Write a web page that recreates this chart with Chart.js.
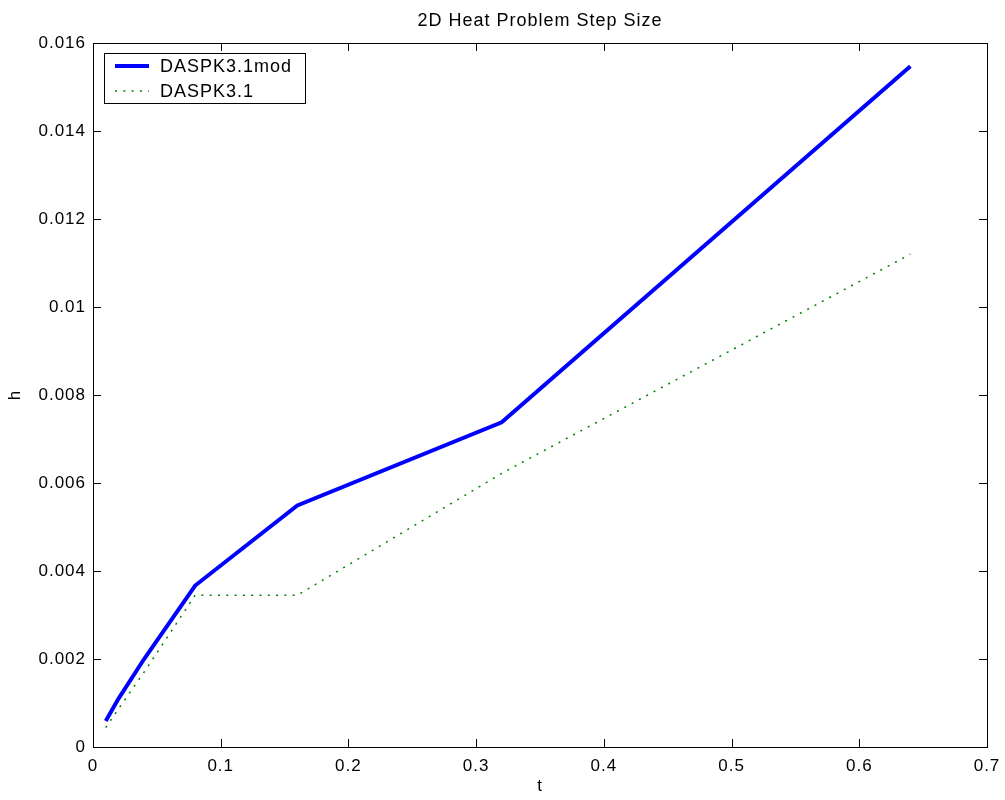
<!DOCTYPE html>
<html>
<head>
<meta charset="utf-8">
<script src="https://cdn.jsdelivr.net/npm/chart.js@4/dist/chart.umd.min.js"></script>
<style>
    html, body { margin: 0; padding: 0; background: #fff; }
    #wrap { width: 1005px; height: 800px; }
</style>
</head>
<body>
<div id="wrap"><canvas id="stepChart" width="1005" height="800"></canvas></div>
<script>
// values
const tValues = [0.01, 0.02, 0.04, 0.08, 0.16, 0.32, 0.64];
const hModified = [0.00059, 0.0011, 0.0020, 0.00367, 0.00549, 0.00738, 0.01547];
const hOriginal = [0.00044, 0.00087, 0.0017, 0.00345, 0.00345, 0.00622, 0.0112];
const seriesLabels = ["DASPK3.1mod", "DASPK3.1"];
const xTicks = [0, 0.1, 0.2, 0.3, 0.4, 0.5, 0.6, 0.7];
const yTicks = [0, 0.002, 0.004, 0.006, 0.008, 0.01, 0.012, 0.014, 0.016];

const FONT = "'Liberation Sans', Arial, Helvetica, sans-serif";
Chart.defaults.font.family = FONT;
Chart.defaults.color = "#000";

const toPoints = (xs, ys) => xs.map((x, i) => ({x: x, y: ys[i]}));

// the old matlab fonts come out a bit wider than Liberation Sans
const spacingPlugin = {
    id: "wideText",
    beforeUpdate(chart) { chart.ctx.letterSpacing = "1px"; },
    beforeDraw(chart) { chart.ctx.letterSpacing = "1px"; }
};

// matlab style box with inward ticks on all four sides
const boxPlugin = {
    id: "matlabBox",
    afterDraw(chart) {
        const ctx = chart.ctx;
        const a = chart.chartArea;
        const xs = chart.scales.x, ys = chart.scales.y;
        const len = 8;
        ctx.save();
        ctx.strokeStyle = "#000";
        ctx.lineWidth = 1;
        ctx.beginPath();
        xTicks.forEach(v => {
            const px = Math.round(xs.getPixelForValue(v)) + 0.5;
            ctx.moveTo(px, a.bottom); ctx.lineTo(px, a.bottom - len);
            ctx.moveTo(px, a.top); ctx.lineTo(px, a.top + len);
        });
        yTicks.forEach(v => {
            const py = Math.round(ys.getPixelForValue(v)) + 0.5;
            ctx.moveTo(a.left, py); ctx.lineTo(a.left + len, py);
            ctx.moveTo(a.right, py); ctx.lineTo(a.right - len, py);
        });
        ctx.stroke();
        ctx.strokeRect(Math.round(a.left) + 0.5, Math.round(a.top) + 0.5,
            Math.round(a.right - a.left), Math.round(a.bottom - a.top));
        ctx.restore();
    }
};

// legend inside the axes, upper left
const legendPlugin = {
    id: "insideLegend",
    afterDraw(chart) {
        const ctx = chart.ctx;
        const a = chart.chartArea;
        const bx = a.left + 11, by = a.top + 10, bw = 201, bh = 50;
        ctx.save();
        ctx.fillStyle = "#fff";
        ctx.fillRect(bx, by, bw, bh);
        ctx.strokeStyle = "#000";
        ctx.lineWidth = 1;
        ctx.strokeRect(bx + 0.5, by + 0.5, bw, bh);
        chart.data.datasets.forEach((ds, i) => {
            const cy = by + 13 + i * 25;
            ctx.beginPath();
            ctx.strokeStyle = ds.borderColor;
            ctx.lineWidth = ds.borderWidth;
            ctx.setLineDash(ds.borderDash || []);
            ctx.moveTo(bx + 11, cy);
            ctx.lineTo(bx + 45, cy);
            ctx.stroke();
            ctx.setLineDash([]);
            ctx.fillStyle = "#000";
            ctx.font = "18px " + FONT;
            ctx.textBaseline = "middle";
            ctx.fillText(ds.label, bx + 56, cy + 1);
        });
        ctx.restore();
    }
};

new Chart(document.getElementById("stepChart"), {
    type: "line",
    data: {
        datasets: [
            {
                label: seriesLabels[0],
                data: toPoints(tValues, hModified),
                borderColor: "#0000ff",
                borderWidth: 4,
                pointRadius: 0,
                tension: 0,
                fill: false
            },
            {
                label: seriesLabels[1],
                data: toPoints(tValues, hOriginal),
                borderColor: "#008000",
                borderWidth: 1.5,
                borderDash: [2, 6.3],
                pointRadius: 0,
                tension: 0,
                fill: false
            }
        ]
    },
    options: {
        responsive: false,
        animation: false,
        layout: { padding: { left: 0, right: 18, top: 0, bottom: 0 } },
        plugins: {
            legend: { display: false },
            tooltip: { enabled: false },
            title: { display: false }
        },
        scales: {
            x: {
                type: "linear",
                min: 0,
                max: 0.7,
                afterFit: (s) => { s.height = 53; s.paddingRight = 0; },
                afterBuildTicks: (s) => { s.ticks = xTicks.map(v => ({value: v})); },
                ticks: {
                    font: { size: 17 },
                    color: "#000",
                    padding: 9,
                    maxRotation: 0,
                    callback: (v) => String(Number(v.toFixed(2)))
                },
                grid: { display: false, drawTicks: false },
                border: { display: false },
                title: {
                    display: true,
                    text: "t",
                    font: { size: 17 },
                    color: "#000",
                    padding: { top: 0, bottom: 3 }
                }
            },
            // top axis only carries the title, so it sits centred over the axes box
            top: {
                type: "linear",
                position: "top",
                min: 0,
                max: 0.7,
                afterFit: (s) => { s.height = 43; },
                ticks: { display: false },
                grid: { display: false, drawTicks: false },
                border: { display: false },
                title: {
                    display: true,
                    text: "2D Heat Problem Step Size",
                    font: { size: 18 },
                    color: "#000",
                    padding: { top: 10, bottom: 0 }
                }
            },
            y: {
                type: "linear",
                min: 0,
                max: 0.016,
                afterFit: (s) => { s.width = 93; },
                afterBuildTicks: (s) => { s.ticks = yTicks.map(v => ({value: v})); },
                ticks: {
                    font: { size: 17 },
                    color: "#000",
                    padding: 7,
                    callback: (v) => String(Number(v.toFixed(3)))
                },
                grid: { display: false, drawTicks: false },
                border: { display: false },
                title: {
                    display: true,
                    text: "h",
                    font: { size: 17 },
                    color: "#000",
                    padding: { top: 5, bottom: 0 }
                }
            }
        }
    },
    plugins: [spacingPlugin, boxPlugin, legendPlugin]
});
</script>
</body>
</html>
